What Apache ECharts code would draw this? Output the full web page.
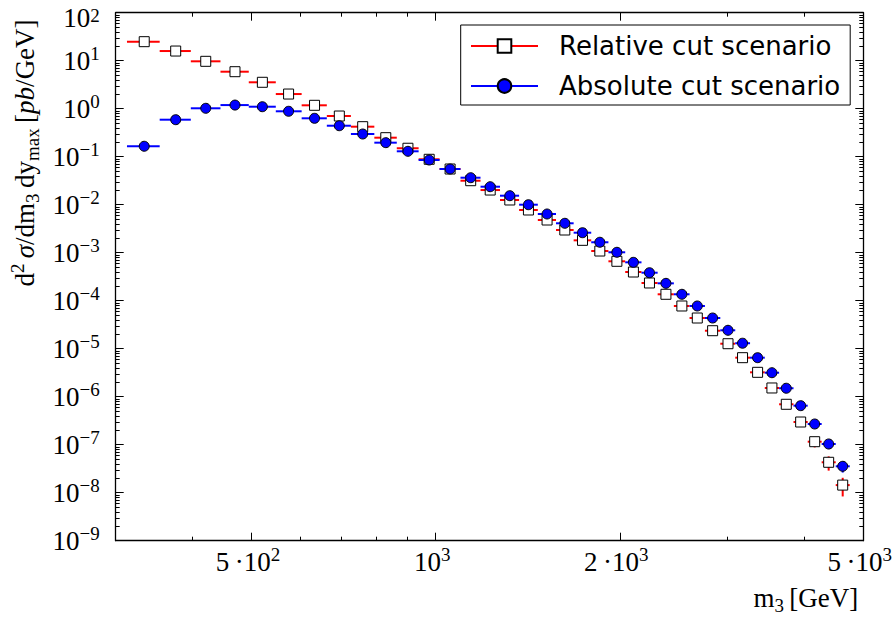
<!DOCTYPE html>
<html>
<head>
<meta charset="utf-8">
<script src="https://cdn.jsdelivr.net/npm/echarts@6/dist/echarts.min.js"></script>
<style>
  html, body { margin: 0; padding: 0; background: #fff; }
  #chart { width: 893px; height: 621px; }
</style>
</head>
<body>
<div id="chart"></div>
<script>
// m3 bins (GeV): centre of each bin and the bin edges
const mCenters = [334, 376, 421, 470, 521, 575, 634, 696, 760, 829, 901, 976, 1056, 1141, 1228, 1322,
  1418, 1521, 1626, 1738, 1855, 1978, 2105, 2236, 2379, 2526, 2677, 2836, 3005, 3174, 3359, 3545,
  3742, 3950, 4164, 4389, 4627];
const binEdges = [313, 354, 398, 445, 495, 548, 604, 664, 727, 794, 864, 938, 1015, 1098, 1184, 1274,
  1369, 1469, 1573, 1681, 1796, 1916, 2041, 2170, 2306, 2451, 2600, 2755, 2919, 3088, 3265, 3451,
  3642, 3845, 4056, 4275, 4507, 4751];

// d^2 sigma / dm3 dy_max  [pb/GeV]
const relativeCut = [24.9, 15.9, 9.71, 5.90, 3.55, 2.02, 1.177, 0.704, 0.422, 0.249, 0.150, 0.0883,
  0.0554, 0.0316, 0.0202, 0.01253, 0.00776, 0.0048, 0.00297, 0.00181, 0.001084, 6.62e-4, 3.96e-4,
  2.34e-4, 1.36e-4, 7.76e-5, 4.36e-5, 2.37e-5, 1.27e-5, 6.5e-6, 3.22e-6, 1.52e-6, 6.95e-7, 2.97e-7,
  1.155e-7, 4.3e-8, 1.44e-8];
const absoluteCut = [0.165, 0.590, 1.02, 1.19, 1.10, 0.883, 0.631, 0.442, 0.297, 0.196, 0.1296, 0.0853,
  0.0554, 0.0365, 0.0237, 0.0154, 0.0100, 0.0064, 0.0041, 0.00261, 0.00165, 0.00102, 6.3e-4, 3.83e-4,
  2.30e-4, 1.36e-4, 7.76e-5, 4.36e-5, 2.42e-5, 1.30e-5, 6.5e-6, 3.16e-6, 1.50e-6, 6.5e-7, 2.70e-7,
  1.035e-7, 3.55e-8];

// relative statistical uncertainty of each bin
const relativeErr = [0.01, 0.01, 0.01, 0.01, 0.01, 0.01, 0.01, 0.01, 0.01, 0.01, 0.01, 0.01, 0.01,
  0.01, 0.01, 0.015, 0.015, 0.02, 0.02, 0.02, 0.025, 0.03, 0.03, 0.035, 0.04, 0.05, 0.06, 0.07, 0.08,
  0.09, 0.10, 0.12, 0.15, 0.18, 0.24, 0.33, 0.42];
const absoluteErr = [0.01, 0.01, 0.01, 0.01, 0.01, 0.01, 0.01, 0.01, 0.01, 0.01, 0.01, 0.01, 0.01,
  0.01, 0.01, 0.01, 0.01, 0.01, 0.015, 0.015, 0.015, 0.02, 0.02, 0.02, 0.025, 0.03, 0.03, 0.035, 0.04,
  0.045, 0.05, 0.06, 0.08, 0.10, 0.14, 0.22, 0.26];

// axis ticks
const xMajorTicks = [500, 1000, 2000, 5000];
const xMajorMantissa = ['5\u2009\u00b7', '', '2\u2009\u00b7', '5\u2009\u00b7'];
const xMajorExponent = [2, 3, 3, 3];
const xMinorTicks = [400, 600, 700, 800, 900, 3000, 4000];
const yExponents = [-9, -8, -7, -6, -5, -4, -3, -2, -1, 0, 1, 2];
const yMinorFactors = [2, 3, 4, 5, 6, 7, 8, 9];

const yMajorTicks = yExponents.map(e => Math.pow(10, e));
const yMinorTicks = [];
yExponents.slice(0, -1).forEach(e => yMinorFactors.forEach(f => yMinorTicks.push(f * Math.pow(10, e))));

const SERIF = "'Liberation Serif', 'DejaVu Serif', serif";
const SANS = "'DejaVu Sans', sans-serif";
const RED = '#ff0000';
const BLUE = '#0000ff';

const mathRich = {
  b: { fontFamily: SERIF, fontSize: 27, lineHeight: 34, color: '#000' },
  s: { fontFamily: SERIF, fontSize: 19, lineHeight: 22, verticalAlign: 'top', color: '#000' },
  u: { fontFamily: SERIF, fontSize: 19, lineHeight: 19, verticalAlign: 'bottom', color: '#000' },
  i: { fontFamily: SERIF, fontSize: 27, lineHeight: 34, fontStyle: 'italic', color: '#000' },
  // x tick exponent, padded on the right so the label sits slightly left of its tick
  sx: { fontFamily: SERIF, fontSize: 19, lineHeight: 22, verticalAlign: 'top', color: '#000', padding: [0, 7, 0, 0] },
  // topmost y tick label, nudged down so it stays inside the canvas
  bt: { fontFamily: SERIF, fontSize: 27, lineHeight: 34, color: '#000', padding: [10, 0, 0, 0] },
  st: { fontFamily: SERIF, fontSize: 19, lineHeight: 22, verticalAlign: 'top', color: '#000', padding: [10, 0, 0, 0] }
};

const XMIN = 300, XMAX = 5000, YMIN = 1e-9, YMAX = 100;

function frameAxis(kind, position, ticks, length, withLine, labels) {
  const ax = {
    type: 'log', position: position, min: kind === 'x' ? XMIN : YMIN, max: kind === 'x' ? XMAX : YMAX,
    logBase: 10,
    splitLine: { show: false },
    axisLine: { show: withLine, lineStyle: { color: '#000', width: 1.3 } },
    axisTick: { show: true, inside: true, length: length, customValues: ticks,
      lineStyle: { color: '#000', width: 1 } },
    axisLabel: { show: false },
    minorTick: { show: false }
  };
  if (labels) ax.axisLabel = labels;
  return ax;
}

const xLabels = {
  show: true, customValues: xMajorTicks, margin: 4, rich: mathRich,
  formatter: v => {
    const i = xMajorTicks.findIndex(t => Math.abs(t - v) < 1e-6 * t);
    return '{b|' + xMajorMantissa[i] + '10}{sx|' + xMajorExponent[i] + '}';
  }
};
const yLabels = {
  show: true, customValues: yMajorTicks, margin: 16, rich: mathRich,
  formatter: v => {
    const e = Math.round(Math.log10(v));
    const exp = e < 0 ? '\u2212' + (-e) : String(e);
    if (e === yExponents[yExponents.length - 1]) return '{bt|10}{st|' + exp + '}';
    return '{b|10}{s|' + exp + '}';
  }
};

const xAxes = [
  frameAxis('x', 'bottom', xMajorTicks, 8, true, xLabels),
  frameAxis('x', 'bottom', xMinorTicks, 4, false),
  frameAxis('x', 'top', xMajorTicks, 8, true),
  frameAxis('x', 'top', xMinorTicks, 4, false)
];
xAxes[0].name = '{b|m}{u|3}{b|\u2009[GeV]}';
xAxes[0].nameLocation = 'end';
xAxes[0].nameGap = -5;
xAxes[0].nameTextStyle = { align: 'right', verticalAlign: 'top', padding: [40, 0, 0, 0], rich: mathRich };

const yAxes = [
  frameAxis('y', 'left', yMajorTicks, 8, true, yLabels),
  frameAxis('y', 'left', yMinorTicks, 4, false),
  frameAxis('y', 'right', yMajorTicks, 8, true),
  frameAxis('y', 'right', yMinorTicks, 4, false)
];

// horizontal bin-width bars and vertical error bars
function errorBars(name, values, errs, color, z) {
  return {
    type: 'custom', name: name, z: z, silent: true,
    xAxisIndex: 0, yAxisIndex: 0,
    encode: { x: 0, y: 1 },
    data: values.map((v, i) => [mCenters[i], v, binEdges[i], binEdges[i + 1], errs[i]]),
    renderItem: function (params, api) {
      const c = api.value(0), v = api.value(1), e = api.value(4);
      const h0 = api.coord([api.value(2), v]);
      const h1 = api.coord([api.value(3), v]);
      const v0 = api.coord([c, v * (1 - e)]);
      const v1 = api.coord([c, v * (1 + e)]);
      const st = { stroke: color, lineWidth: 2 };
      return {
        type: 'group',
        children: [
          { type: 'line', shape: { x1: h0[0], y1: h0[1], x2: h1[0], y2: h1[1] }, style: st },
          { type: 'line', shape: { x1: v0[0], y1: v0[1], x2: v1[0], y2: v1[1] }, style: st }
        ]
      };
    }
  };
}

function markers(name, values, symbol, fill, lineColor, z) {
  return {
    type: 'line', name: name, z: z,
    xAxisIndex: 0, yAxisIndex: 0,
    data: values.map((v, i) => [mCenters[i], v]),
    symbol: symbol, symbolSize: 10, showSymbol: true,
    lineStyle: { color: lineColor, width: 2, opacity: 0 },
    itemStyle: { color: fill, borderColor: '#000', borderWidth: 1, opacity: 1 },
    emphasis: { disabled: true },
    clip: false
  };
}

const chart = echarts.init(document.getElementById('chart'), null, { renderer: 'svg' });
chart.setOption({
  animation: false,
  backgroundColor: '#fff',
  grid: { left: 115.7, right: 29.7, top: 12.7, bottom: 80.3, containLabel: false, outerBoundsMode: 'none' },
  xAxis: xAxes,
  yAxis: yAxes,
  legend: {
    orient: 'vertical', left: 460.7, top: 25,
    itemWidth: 67, itemHeight: 17, itemGap: 10,
    padding: [6, 10, 4, 9.3],
    borderColor: '#000', borderWidth: 1, borderRadius: 0, backgroundColor: '#fff',
    selectedMode: false,
    textStyle: { fontFamily: SANS, fontSize: 26, color: '#000', lineHeight: 30,
      rich: { gap: { width: 16 } } },
    formatter: name => '{gap|}' + name,
    data: [
      { name: 'Relative cut scenario', lineStyle: { color: RED, width: 2, opacity: 1 } },
      { name: 'Absolute cut scenario', lineStyle: { color: BLUE, width: 2, opacity: 1 } }
    ]
  },
  graphic: [{
    type: 'text', x: 25, y: 153, rotation: Math.PI / 2,
    style: {
      text: '{b|d}{s|2}{b|\u2009}{i|\u03c3}{b|/dm}{u|3}{b|\u2009dy}{u|max}{b|\u2009[}{i|pb}{b|/GeV]}',
      rich: mathRich, align: 'center', verticalAlign: 'middle'
    }
  }],
  series: [
    errorBars('relative bins', relativeCut, relativeErr, RED, 2),
    markers('Relative cut scenario', relativeCut, 'rect', '#ffffff', RED, 3),
    errorBars('absolute bins', absoluteCut, absoluteErr, BLUE, 4),
    markers('Absolute cut scenario', absoluteCut, 'circle', BLUE, BLUE, 5)
  ]
});
</script>
</body>
</html>
